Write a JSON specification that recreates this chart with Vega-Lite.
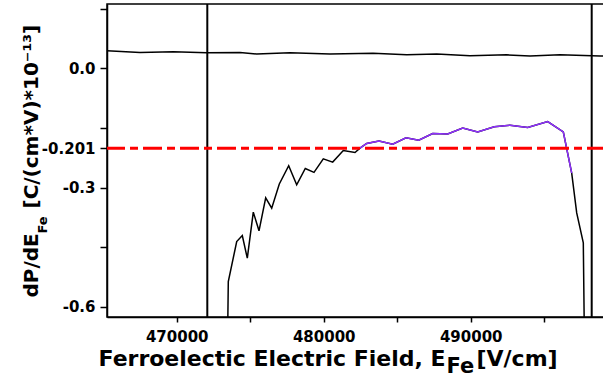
{
  "$schema": "https://vega.github.io/schema/vega-lite/v6.json",
  "width": 499,
  "height": 313,
  "autosize": "none",
  "padding": {"left": 107, "top": 4, "right": 0, "bottom": 60},
  "background": "white",
  "config": {"view": {"stroke": "#000", "strokeWidth": 1.5}},
  "datasets": {
    "top": [
      {"x": 465259, "y": 0.044}, {"x": 467503, "y": 0.040}, {"x": 469769, "y": 0.042}, {"x": 472041, "y": 0.039},
      {"x": 474306, "y": 0.040}, {"x": 475442, "y": 0.036}, {"x": 477707, "y": 0.039}, {"x": 480429, "y": 0.036},
      {"x": 483354, "y": 0.038}, {"x": 485646, "y": 0.034}, {"x": 487687, "y": 0.036}, {"x": 489952, "y": 0.032},
      {"x": 492449, "y": 0.034}, {"x": 494034, "y": 0.031}, {"x": 496075, "y": 0.034}, {"x": 498796, "y": 0.031},
      {"x": 499204, "y": 0.031}
    ],
    "curve": [
      {"x": 473469, "y": -0.66}, {"x": 473510, "y": -0.537}, {"x": 474082, "y": -0.436}, {"x": 474463, "y": -0.421},
      {"x": 474803, "y": -0.478}, {"x": 475211, "y": -0.362}, {"x": 475599, "y": -0.409}, {"x": 476054, "y": -0.326},
      {"x": 476463, "y": -0.352}, {"x": 476980, "y": -0.291}, {"x": 477619, "y": -0.245}, {"x": 478163, "y": -0.293},
      {"x": 478748, "y": -0.252}, {"x": 479340, "y": -0.262}, {"x": 479973, "y": -0.228}, {"x": 480612, "y": -0.236},
      {"x": 481333, "y": -0.207}, {"x": 482129, "y": -0.212}, {"x": 482469, "y": -0.201}, {"x": 482925, "y": -0.189},
      {"x": 483762, "y": -0.183}, {"x": 484694, "y": -0.191}, {"x": 485599, "y": -0.175}, {"x": 486463, "y": -0.181},
      {"x": 487415, "y": -0.164}, {"x": 488435, "y": -0.165}, {"x": 489456, "y": -0.150}, {"x": 490476, "y": -0.160},
      {"x": 491605, "y": -0.147}, {"x": 492673, "y": -0.143}, {"x": 493878, "y": -0.149}, {"x": 495238, "y": -0.134},
      {"x": 496299, "y": -0.160}, {"x": 496871, "y": -0.264}, {"x": 497211, "y": -0.364}, {"x": 497660, "y": -0.439},
      {"x": 497728, "y": -0.66}
    ],
    "purple": [
      {"x": 482469, "y": -0.201}, {"x": 482925, "y": -0.189},
      {"x": 483762, "y": -0.183}, {"x": 484694, "y": -0.191}, {"x": 485599, "y": -0.175}, {"x": 486463, "y": -0.181},
      {"x": 487415, "y": -0.164}, {"x": 488435, "y": -0.165}, {"x": 489456, "y": -0.150}, {"x": 490476, "y": -0.160},
      {"x": 491605, "y": -0.147}, {"x": 492673, "y": -0.143}, {"x": 493878, "y": -0.149}, {"x": 495238, "y": -0.134},
      {"x": 496299, "y": -0.160}, {"x": 496871, "y": -0.264}
    ],
    "vlines": [{"x": 472082}, {"x": 498231}],
    "ref": [{"y": -0.201}]
  },
  "layer": [
    {
      "data": {"name": "vlines"},
      "mark": {"type": "rule", "color": "#000", "strokeWidth": 2, "clip": true},
      "encoding": {
        "x": {"field": "x", "type": "quantitative", "axis": null,
              "scale": {"domain": [465259, 499204], "nice": false, "zero": false}}
      }
    },
    {
      "data": {"name": "top"},
      "mark": {"type": "line", "color": "#000", "strokeWidth": 1.5, "clip": true},
      "encoding": {
        "x": {"field": "x", "type": "quantitative",
              "scale": {"domain": [465259, 499204], "nice": false, "zero": false},
              "axis": {
                "values": [470000, 475000, 480000, 485000, 490000, 495000],
                "labelExpr": "datum.value % 10000 == 0 ? format(datum.value, 'd') : ''",
                "labelFont": "DejaVu Sans", "labelFontWeight": "bold", "labelFontSize": 15, "labelColor": "#000",
                "labelOverlap": false, "labelFlush": false, "labelPadding": 7,
                "tickColor": "#000", "tickSize": 5, "tickWidth": 1.5,
                "domainColor": "#000", "domainWidth": 1.5, "grid": false,
                "title": "Ferroelectic Electric Field, E",
                "titleFont": "DejaVu Sans", "titleFontSize": 22, "titleFontWeight": "bold", "titleColor": "#000",
                "titleAlign": "left", "titleBaseline": "alphabetic", "titleX": -9, "titleY": 48
              }},
        "y": {"field": "y", "type": "quantitative",
              "scale": {"domain": [-0.626, 0.162], "nice": false, "zero": false},
              "axis": {
                "values": [0.15, 0, -0.15, -0.201, -0.3, -0.45, -0.6],
                "labelExpr": "datum.value == 0 ? '0.0' : datum.value == -0.3 ? '-0.3' : datum.value == -0.6 ? '-0.6' : datum.value == -0.201 ? '-0.201' : ''",
                "labelFont": "DejaVu Sans", "labelFontWeight": "bold", "labelFontSize": 15, "labelColor": "#000",
                "labelOverlap": false, "labelFlush": false, "labelPadding": 5,
                "tickColor": "#000", "tickSize": 7, "tickWidth": 1.5,
                "domainColor": "#000", "domainWidth": 1.5, "grid": false,
                "title": "dP/dE",
                "titleFont": "DejaVu Sans", "titleFontSize": 20, "titleFontWeight": "bold", "titleColor": "#000",
                "titleAngle": -90, "titleAlign": "left", "titleBaseline": "alphabetic", "titleX": -70, "titleY": 293
              }}
      }
    },
    {
      "data": {"name": "curve"},
      "mark": {"type": "line", "color": "#000", "strokeWidth": 1.5, "clip": true},
      "encoding": {
        "x": {"field": "x", "type": "quantitative", "axis": null},
        "y": {"field": "y", "type": "quantitative", "axis": null}
      }
    },
    {
      "data": {"name": "purple"},
      "mark": {"type": "line", "color": "#8f30ff", "strokeWidth": 1.5, "clip": true},
      "encoding": {
        "x": {"field": "x", "type": "quantitative", "axis": null},
        "y": {"field": "y", "type": "quantitative", "axis": null}
      }
    },
    {
      "data": {"name": "ref"},
      "mark": {"type": "rule", "color": "#ff0000", "strokeWidth": 3, "strokeDash": [19, 5, 8, 5], "clip": true},
      "encoding": {
        "y": {"field": "y", "type": "quantitative", "axis": null}
      }
    },
    {
      "data": {"name": "top"},
      "mark": {"type": "point", "opacity": 0},
      "encoding": {
        "x": {"field": "x", "type": "quantitative",
              "axis": {"orient": "bottom", "labels": false, "ticks": false, "domain": false, "grid": false,
                       "title": "Fe", "titleFont": "DejaVu Sans", "titleFontSize": 21, "titleFontWeight": "bold", "titleColor": "#000",
                       "titleAlign": "left", "titleBaseline": "alphabetic", "titleX": 339, "titleY": 55}},
        "y": {"field": "y", "type": "quantitative",
              "axis": {"orient": "left", "labels": false, "ticks": false, "domain": false, "grid": false,
                       "title": "Fe", "titleFont": "DejaVu Sans", "titleFontSize": 13, "titleFontWeight": "bold", "titleColor": "#000",
                       "titleAngle": -90, "titleAlign": "left", "titleBaseline": "alphabetic", "titleX": -61, "titleY": 229}}
      }
    },
    {
      "data": {"name": "top"},
      "mark": {"type": "point", "opacity": 0},
      "encoding": {
        "x": {"field": "x", "type": "quantitative",
              "axis": {"orient": "bottom", "labels": false, "ticks": false, "domain": false, "grid": false,
                       "title": "[V/cm]", "titleFont": "DejaVu Sans", "titleFontSize": 22, "titleFontWeight": "bold", "titleColor": "#000",
                       "titleAlign": "left", "titleBaseline": "alphabetic", "titleX": 369, "titleY": 48}},
        "y": {"field": "y", "type": "quantitative",
              "axis": {"orient": "left", "labels": false, "ticks": false, "domain": false, "grid": false,
                       "title": "[C/(cm*V)*10\u207b\u00b9\u00b3]", "titleFont": "DejaVu Sans", "titleFontSize": 20, "titleFontWeight": "bold", "titleColor": "#000",
                       "titleAngle": -90, "titleAlign": "left", "titleBaseline": "alphabetic", "titleX": -70, "titleY": 204}}
      }
    }
  ],
  "resolve": {"axis": {"x": "independent", "y": "independent"}}
}
